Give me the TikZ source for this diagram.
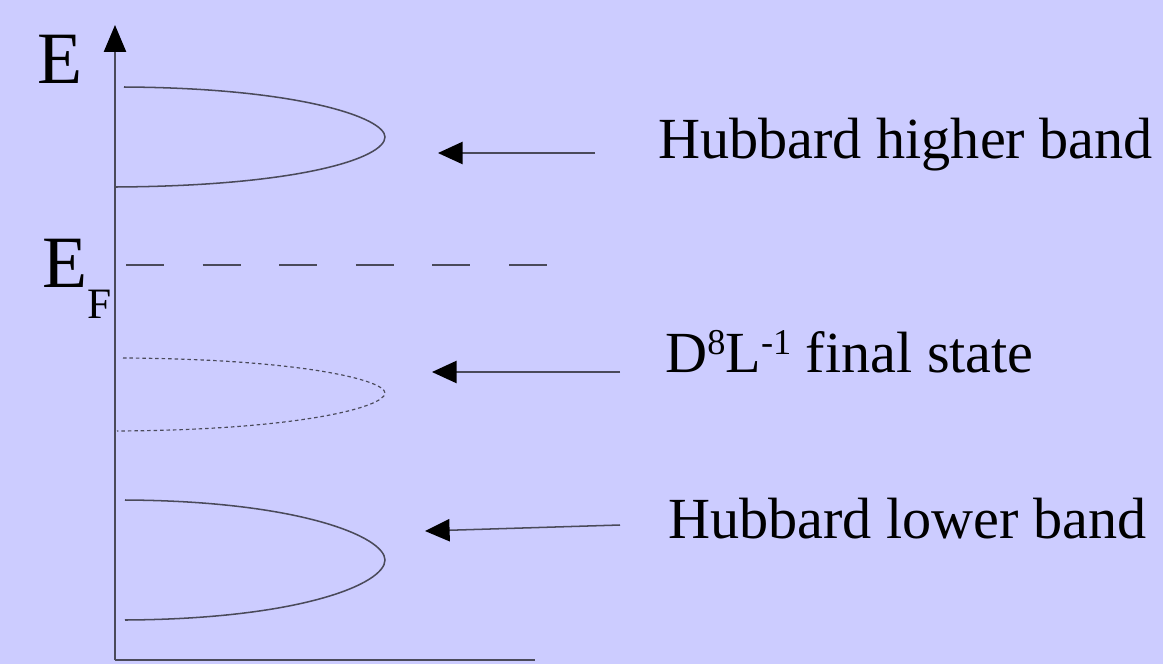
\documentclass[tikz,border=0pt]{standalone}
\usepackage{fontspec}
\setmainfont{Liberation Serif}
\usepackage{tikz}
\usetikzlibrary{calc,positioning,arrows.meta}

\definecolor{bgblue}{HTML}{CCCCFF}
\definecolor{linegrey}{HTML}{4A4A5A}

\newcommand{\raisedidx}[1]{\raisebox{0.3em}{\fontsize{31}{31}\selectfont #1}}

\tikzset{
  bandline/.style={line width=1.3pt, draw=linegrey},
  pointer/.style={line width=1.3pt, draw=linegrey, -{Triangle[length=21pt,width=19pt,color=black]}},
  label/.style={anchor=base west, inner sep=0pt, font=\fontsize{49.7}{52}\selectfont},
  axislabel/.style={anchor=base, inner sep=0pt, font=\fontsize{63}{64}\selectfont},
}

\begin{document}
\begin{tikzpicture}[x=0.03cm,y=-0.03cm]
    \useasboundingbox[fill=bgblue] (0,0) rectangle (1163,664);
    % axes
    \coordinate (origin) at (115,660);
    \coordinate (etop) at (115,25);
    \coordinate (xend) at (535,660);
    \draw[line width=1.3pt, draw=linegrey, -{Triangle[length=23pt,width=19pt,color=black]}] (origin) -- (etop);
    \draw[bandline] (origin) -- (xend);
    \node[axislabel] (elabel) at (60.5,83) {E};
    \node[axislabel] (eflabel) at (65,287) {E};
    \node[anchor=base west, inner sep=0pt, font=\fontsize{37}{38}\selectfont] (fsub) at (87,318) {F};
    % Fermi level
    \coordinate (fl) at (126,265);
    \coordinate (fr) at (548,265);
    \draw[bandline, dash pattern=on 32.4pt off 33pt] (fl) -- (fr);
    % bands
    \draw[bandline] (124,87) .. controls (300,88) and (385,118) .. (385,137)
        .. controls (385,158) and (300,186) .. (115,187);
    \draw[bandline, line width=1pt, dash pattern=on 3pt off 2.5pt] (123,358) .. controls (300,359) and (385,380) .. (385,393)
        .. controls (385,407) and (300,430) .. (117,431);
    \draw[bandline] (125,500) .. controls (300,501) and (385,537) .. (385,560)
        .. controls (385,584) and (300,619) .. (125,620);
    % labels
    \node[label] (higher) at (658,158) {Hubbard higher band};
    \node[label] (final) at (665,372) {D\raisedidx{8}L\raisedidx{-1} final state};
    \node[label] (lower) at (668,538) {Hubbard lower band};
    % pointers
    \coordinate (hstart) at (595,153);
    \coordinate (hend) at (438,153);
    \coordinate (fstart) at (620,372);
    \coordinate (fend) at (432,372);
    \coordinate (lstart) at (620,525);
    \coordinate (lend) at (425,531);
    \draw[pointer] (hstart) -- (hend);
    \draw[pointer] (fstart) -- (fend);
    \draw[pointer] (lstart) -- (lend);
\end{tikzpicture}
\end{document}
